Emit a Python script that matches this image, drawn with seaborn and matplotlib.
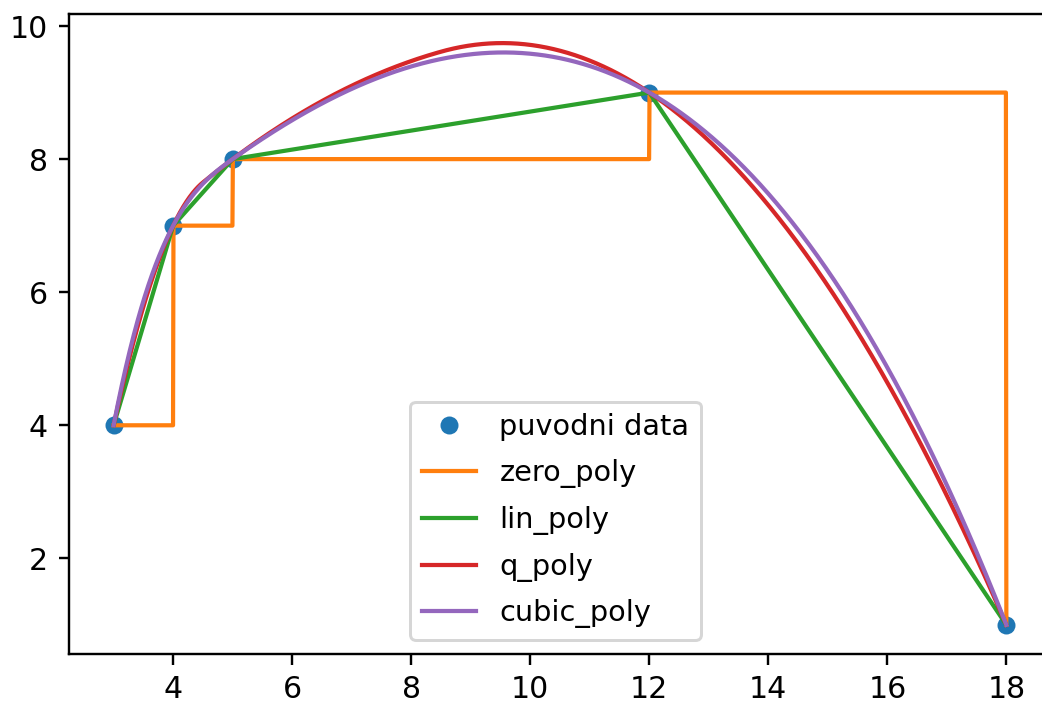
import numpy as np
import pandas as pd
import matplotlib
matplotlib.use("Agg")
import matplotlib.pyplot as plt
import seaborn as sns

# original samples
x_data = [3, 4, 5, 12, 18]
y_data = [4, 7, 8, 9, 1]

labels = ["puvodni data", "zero_poly", "lin_poly", "q_poly", "cubic_poly"]
colors = ["#1f77b4", "#ff7f0e", "#2ca02c", "#d62728", "#9467bd"]


def bspline_basis(t, k, xs):
    """Cox-de Boor evaluation of all B-spline basis functions of degree k."""
    t = np.asarray(t, float)
    xs = np.asarray(xs, float)
    m = len(t) - 1
    B = np.zeros((len(xs), m))
    for i in range(m):
        if t[i] < t[i + 1]:
            B[:, i] = (xs >= t[i]) & (xs < t[i + 1])
    last = max(i for i in range(m) if t[i] < t[i + 1])
    B[xs == t[-1], last] = 1.0
    for d in range(1, k + 1):
        Bn = np.zeros((len(xs), m - d))
        for i in range(m - d):
            left = t[i + d] - t[i]
            right = t[i + d + 1] - t[i + 1]
            term = np.zeros(len(xs))
            if left > 0:
                term += (xs - t[i]) / left * B[:, i]
            if right > 0:
                term += (t[i + d + 1] - xs) / right * B[:, i + 1]
            Bn[:, i] = term
        B = Bn
    return B


def interp_spline(x, y, k, xs):
    x = np.asarray(x, float)
    y = np.asarray(y, float)
    if k == 2:
        mid = (x[1:] + x[:-1]) / 2.0
        t = np.r_[(x[0],) * 3, mid[1:-1], (x[-1],) * 3]
    else:
        t = np.r_[(x[0],) * (k + 1), x[2:-2], (x[-1],) * (k + 1)]
    c = np.linalg.solve(bspline_basis(t, k, x), y)
    return bspline_basis(t, k, xs) @ c


x_new = np.linspace(3, 18, 2000)
xa = np.asarray(x_data, float)
ya = np.asarray(y_data, float)
idx = np.clip(np.searchsorted(xa, x_new, side="right") - 1, 0, len(xa) - 1)
curves = {
    "zero_poly": ya[idx],
    "lin_poly": np.interp(x_new, xa, ya),
    "q_poly": interp_spline(xa, ya, 2, x_new),
    "cubic_poly": interp_spline(xa, ya, 3, x_new),
}

dpi = 216
fig = plt.figure(figsize=(1042 / dpi, 702 / dpi), dpi=dpi)
ax = fig.add_axes([69 / 1042, (702 - 654) / 702, (1051 - 69) / 1042, (654 - 14) / 702])

pts = pd.DataFrame({"x": x_data, "y": y_data})
sns.lineplot(data=pts, x="x", y="y", ax=ax, marker="o", linestyle="", markersize=6,
             markeredgewidth=0, color=colors[0], label=labels[0], estimator=None)
for name, col in zip(labels[1:], colors[1:]):
    df = pd.DataFrame({"x": x_new, "y": curves[name]})
    sns.lineplot(data=df, x="x", y="y", ax=ax, color=col, linewidth=1.4,
                 label=name, estimator=None, sort=False)

ax.set_xlabel("")
ax.set_ylabel("")
ax.set_xticks([4, 6, 8, 10, 12, 14, 16, 18])
ax.set_yticks([2, 4, 6, 8, 10])
ax.legend(loc="lower left", bbox_to_anchor=(410 / 1042, (702 - 640) / 702),
          bbox_transform=fig.transFigure, borderaxespad=0,
          fontsize=9.6, labelspacing=0.62, handlelength=1.9)

fig.savefig("out.png", dpi=dpi)
